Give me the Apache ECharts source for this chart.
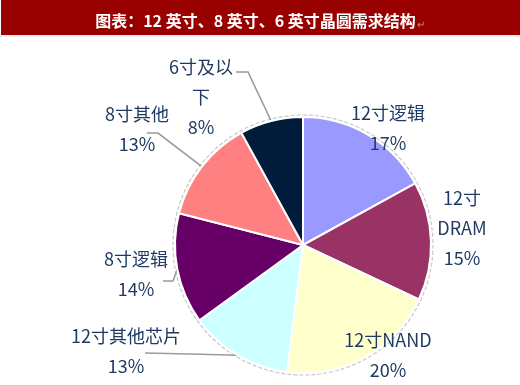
<!DOCTYPE html>
<html><head><meta charset="utf-8">
<script src="https://cdn.jsdelivr.net/npm/echarts@6/dist/echarts.min.js"></script>
<style>html,body{margin:0;padding:0;background:#fff}#c{width:520px;height:385px}</style>
</head><body><div id="c"></div>
<script>
// ---- data ----
const categories = ['12寸逻辑', '12寸DRAM', '12寸NAND', '12寸其他芯片', '8寸逻辑', '8寸其他', '6寸及以下'];
const labelTexts = ['12寸逻辑', '12寸\nDRAM', '12寸NAND', '12寸其他芯片', '8寸逻辑', '8寸其他', '6寸及以\n下'];
const values = [17, 15, 20, 13, 14, 13, 8];
const colors = ['#9999FF', '#993366', '#FFFFCC', '#CCFFFF', '#660066', '#FF8080', '#001C3A'];
const titleText = '图表：12 英寸、8 英寸、6 英寸晶圆需求结构';

// ---- label placement (style) ----
const labelPos = [
  {x: 388, y: 128, line: null},
  {x: 462, y: 228, line: null},
  {x: 388, y: 355, line: null},
  {x: 126, y: 351, line: [[190, 354], [145, 353]]},
  {x: 136, y: 274, line: [[173, 281], [163, 281]]},
  {x: 137, y: 129, line: [[158, 133], [147, 133]]},
  {x: 201, y: 97, line: [[248, 72], [236, 72]]}
];

const total = values.reduce((a, b) => a + b, 0);
const data = categories.map((c, i) => ({
  name: c,
  value: values[i],
  itemStyle: {color: colors[i]},
  label: {formatter: labelTexts[i] + '\n' + Math.round(values[i] / total * 100) + '%'},
  labelLine: {show: !!labelPos[i].line}
}));

const chart = echarts.init(document.getElementById('c'), null, {renderer: 'canvas'});
chart.setOption({
  animation: false,
  backgroundColor: '#fff',
  graphic: [
    {type: 'rect', shape: {x: 1, y: 0, width: 519, height: 35}, style: {fill: '#990000'}, z: 0},
    {type: 'line', shape: {x1: 0, y1: 36, x2: 520, y2: 36}, style: {stroke: '#d8d8d8', lineWidth: 1}, z: 0}
  ],
  title: {
    text: titleText + '{r|↵}',
    left: 'center',
    top: 8,
    textStyle: {
      color: '#ffffff', fontSize: 16, fontWeight: 'bold',
      fontFamily: '"Noto Sans CJK SC", sans-serif',
      rich: {r: {color: '#c89090', fontSize: 10, fontWeight: 'normal', padding: [6, 0, 0, 1]}}
    },
    z: 10
  },
  series: [
    {
      type: 'pie',
      silent: true,
      center: [303, 245],
      radius: [0, 130],
      startAngle: 90,
      data: [{value: 1, itemStyle: {color: 'rgba(0,0,0,0)', borderColor: '#c8c8c8', borderWidth: 1.2, borderType: [4, 2]}}],
      label: {show: false},
      labelLine: {show: false},
      z: 1
    },
    {
      type: 'pie',
      center: [303, 245],
      radius: [0, 128],
      startAngle: 90,
      clockwise: true,
      data: data,
      itemStyle: {borderColor: '#ffffff', borderWidth: 2},
      label: {
        show: true,
        position: 'outside',
        color: '#1F3B63',
        fontSize: 18,
        lineHeight: 30,
        align: 'center',
        fontFamily: '"Noto Sans CJK SC", sans-serif'
      },
      labelLine: {show: true, length: 10, length2: 10, lineStyle: {color: '#9a9a9a', width: 1.6}},
      labelLayout: function (params) {
        const p = labelPos[params.dataIndex];
        const out = {x: p.x, y: p.y, align: 'center', verticalAlign: 'middle'};
        if (p.line && params.labelLinePoints) {
          out.labelLinePoints = [params.labelLinePoints[0], p.line[0], p.line[1]];
        }
        return out;
      },
      z: 2
    }
  ]
});
</script></body></html>
